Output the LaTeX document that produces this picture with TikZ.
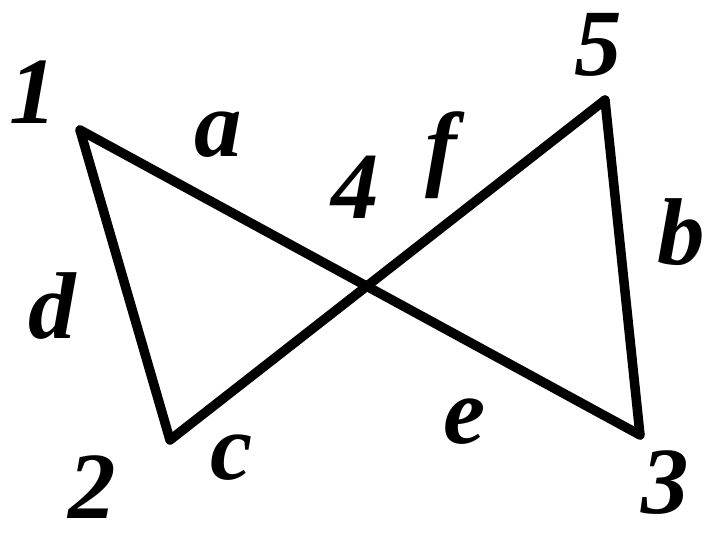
\documentclass[tikz,border=0pt]{standalone}
\usepackage{fontspec}
\setmainfont{Liberation Serif}
\usetikzlibrary{calc}

\begin{document}
\begin{tikzpicture}[x=1cm,y=1cm]
\tikzset{
  edge/.style={line width=5.4pt,line join=round,line cap=round},
  lbl/.style={inner sep=0pt,font=\fontsize{54}{56}\selectfont\bfseries\itshape}
}
\useasboundingbox (0,0) rectangle (14.16,10.76);
\coordinate (n_1) at (1.60,8.16);
\coordinate (n_2) at (3.40,1.96);
\coordinate (n_3) at (12.80,2.06);
\coordinate (n_5) at (12.10,8.76);
\coordinate (n_4) at (intersection of n_1--n_3 and n_2--n_5);
\draw[edge] (n_1) -- (n_2);
\draw[edge] (n_1) -- (n_3);
\draw[edge] (n_2) -- (n_5);
\draw[edge] (n_5) -- (n_3);
% vertex numbers
\node[lbl] (l_1) at (0.66,8.92) {1};
\node[lbl] (l_2) at (1.84,1.02) {2};
\node[lbl] (l_3) at (13.30,1.10) {3};
\node[lbl] (l_4) at (7.10,7.02) {4};
\node[lbl] (l_5) at (11.96,9.86) {5};
% edge letters
\node[lbl] (l_a) at (4.36,8.06) {a};
\node[lbl] (l_b) at (13.62,6.12) {b};
\node[lbl] (l_c) at (4.64,1.60) {c};
\node[lbl] (l_d) at (1.04,4.64) {d};
\node[lbl] (l_e) at (9.30,2.32) {e};
\node[lbl] (l_f) at (8.82,7.66) {f};
\end{tikzpicture}
\end{document}
